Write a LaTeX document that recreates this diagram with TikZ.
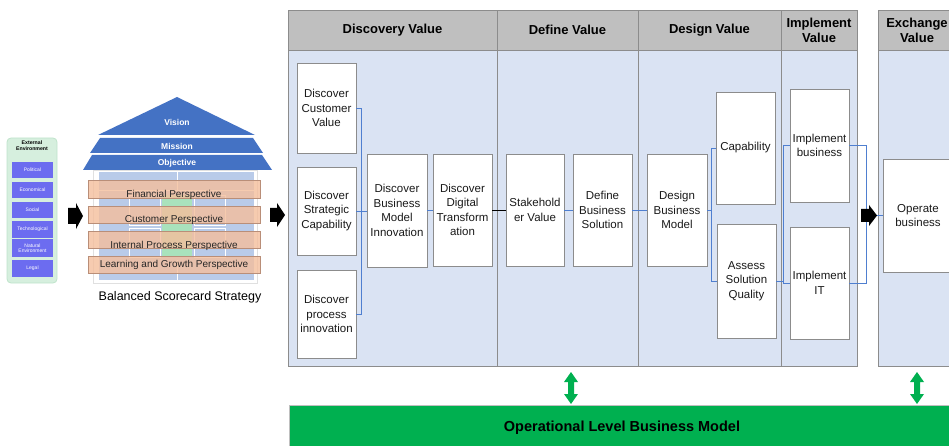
\documentclass[tikz,border=0pt]{standalone}
\usepackage{fontspec}
\setmainfont{Liberation Sans}

\definecolor{panelblue}{HTML}{DAE3F3}
\definecolor{headgray}{HTML}{BFBFBF}
\definecolor{edgegray}{HTML}{8C8C8C}
\definecolor{conblue}{HTML}{4F7FD0}
\definecolor{roofblue}{HTML}{4472C4}
\definecolor{opgreen}{HTML}{00B050}
\definecolor{extfill}{HTML}{D6EFDE}
\definecolor{extedge}{HTML}{BFE3CB}
\definecolor{pestblue}{HTML}{6C6CF0}
\definecolor{scoreblue}{HTML}{B9CBE9}
\definecolor{scoregreen}{HTML}{A9E2BC}
\definecolor{persfill}{HTML}{F4BE9C}
\definecolor{persedge}{HTML}{B98E78}
\definecolor{boxtext}{HTML}{1A1A1A}

% right-pointing block arrow: tail x, tip x, centre y, half shaft, half head, head length
\newcommand{\blockarrowR}[6]{%
  \fill[black] (#1,#3-#4) -- (#2-#6,#3-#4) -- (#2-#6,#3-#5) -- (#2,#3)
    -- (#2-#6,#3+#5) -- (#2-#6,#3+#4) -- (#1,#3+#4) -- cycle;}
% vertical double block arrow: centre x, top y, bottom y
\newcommand{\greenUpDown}[3]{%
  \fill[opgreen] (#1,#2) -- (#1+7,#2+10) -- (#1+3,#2+10) -- (#1+3,#3-10) -- (#1+7,#3-10)
    -- (#1,#3) -- (#1-7,#3-10) -- (#1-3,#3-10) -- (#1-3,#2+10) -- (#1-7,#2+10) -- cycle;}

\begin{document}
\begin{tikzpicture}[x=1pt,y=-1pt,
  box/.style={draw=edgegray, fill=white, line width=0.8pt, inner sep=1pt,
    align=center, text=boxtext, font=\fontsize{11.5}{14.5}\selectfont},
  hdr/.style={draw=edgegray, fill=headgray, line width=0.8pt, inner sep=0pt,
    align=center, font=\fontsize{13}{15}\selectfont\bfseries},
  lane/.style={draw=edgegray, fill=panelblue, line width=0.8pt, inner sep=0pt},
  con/.style={draw=conblue, line width=0.7pt},
  pest/.style={fill=pestblue, inner sep=0pt, minimum width=41pt, align=center,
    text=white, font=\fontsize{5}{5.5}\selectfont},
  pers/.style={draw=persedge, fill=persfill, fill opacity=0.8, line width=0.6pt,
    minimum width=172pt, inner sep=0pt},
  perstext/.style={font=\fontsize{10}{12}\selectfont, text=black!85},
  rooftext/.style={text=white, font=\fontsize{8.5}{10}\selectfont\bfseries}
]
\useasboundingbox (0,0) rectangle (949,446);
\clip (0,0) rectangle (949,446);

% ---------- external environment (PESTEL) ----------
\node[draw=extedge, fill=extfill, rounded corners=4pt, line width=0.8pt,
  minimum width=50pt, minimum height=145pt, inner sep=0pt] (ext) at (32,210.5) {};
\node[font=\fontsize{5.2}{5.8}\selectfont\bfseries, align=center] (extt) at (32,146) {External\\Environment};
\node[pest, minimum height=16pt] (pol) at (32.5,170) {Political};
\node[pest, minimum height=16pt] (eco) at (32.5,190) {Economical};
\node[pest, minimum height=16pt] (soc) at (32.5,210) {Social};
\node[pest, minimum height=17pt] (tec) at (32.5,229.5) {Technological};
\node[pest, minimum height=18pt] (nat) at (32.5,248) {Natural\\Environment};
\node[pest, minimum height=17pt] (leg) at (32.5,268.5) {Legal};

\blockarrowR{68}{83}{216}{8}{13}{7}

% ---------- balanced scorecard house ----------
\fill[roofblue] (98,135) -- (177,97) -- (255,135) -- cycle;
\fill[roofblue] (100,138) -- (253,138) -- (263,153) -- (90,153) -- cycle;
\fill[roofblue] (92,155) -- (262,155) -- (272,170) -- (83,170) -- cycle;
\node[rooftext] (vision) at (177,122) {Vision};
\node[rooftext] (mission) at (177,146) {Mission};
\node[rooftext] (objective) at (177,163) {Objective};

\draw[black!12, fill=white] (93,170) rectangle (257,283);
\fill[scoreblue] (99,172) rectangle (254,280);
\fill[scoregreen] (162,195) rectangle (192,257);
\begin{scope}[draw=white, line width=0.7pt]
  \draw (99,190) -- (254,190);
  \draw (177,172) -- (177,190);
  \draw (129,195) rectangle (160,225);
  \draw (129,228) rectangle (160,257);
  \draw (194,195) rectangle (225,225);
  \draw (194,228) rectangle (225,257);
  \draw (177,260) -- (177,280);
\end{scope}

\node[pers, minimum height=18pt] (fin) at (174,189) {};
\node[pers, minimum height=17pt] (cus) at (174,214.5) {};
\node[pers, minimum height=17pt] (ipp) at (174,239.5) {};
\node[pers, minimum height=17pt] (lgp) at (174,264.5) {};
\node[perstext] (fint) at (174,195) {Financial Perspective};
\node[perstext] (cust) at (174,220) {Customer Perspective};
\node[perstext] (ippt) at (174,246) {Internal Process Perspective};
\node[perstext] (lgpt) at (174,265) {Learning and Growth Perspective};

\node[font=\fontsize{12.5}{15}\selectfont] (bsc) at (180,297) {Balanced Scorecard Strategy};

\blockarrowR{270}{285}{215}{7}{12}{8}

% ---------- value stream lanes ----------
\node[lane, minimum width=209pt, minimum height=316pt] (ldisc) at (392.5,208) {};
\node[lane, minimum width=141pt, minimum height=316pt] (ldef) at (567.5,208) {};
\node[lane, minimum width=143pt, minimum height=316pt] (ldes) at (709.5,208) {};
\node[lane, minimum width=76pt, minimum height=316pt] (limp) at (819,208) {};
\node[lane, minimum width=78pt, minimum height=316pt] (lexc) at (917,208) {};

\node[hdr, minimum width=209pt, minimum height=40pt] (hdisc) at (392.5,30) {Discovery Value};
\node[hdr, minimum width=141pt, minimum height=40pt] (hdef) at (567.5,30) {Define Value};
\node[hdr, minimum width=143pt, minimum height=40pt] (hdes) at (709.5,30) {Design Value};
\node[hdr, minimum width=76pt, minimum height=40pt] (himp) at (819,30) {Implement\\Value};
\node[hdr, minimum width=78pt, minimum height=40pt] (hexc) at (917,30) {Exchange\\Value};

% ---------- activities ----------
\node[box, minimum width=59pt, minimum height=90pt] (cv) at (326.5,108) {Discover\\Customer\\Value};
\node[box, minimum width=59pt, minimum height=88pt] (sc) at (326.5,211) {Discover\\Strategic\\Capability};
\node[box, minimum width=59pt, minimum height=88pt] (pi) at (326.5,314) {Discover\\process\\innovation};
\node[box, minimum width=60pt, minimum height=113pt] (bmi) at (397,210.5) {Discover\\Business\\Model\\Innovation};
\node[box, minimum width=59pt, minimum height=112pt] (ddt) at (462.5,210) {Discover\\Digital\\Transform\\ation};
\node[box, minimum width=58pt, minimum height=112pt] (sv) at (535,210) {Stakehold\\er Value};
\node[box, minimum width=59pt, minimum height=112pt] (dbs) at (602.5,210) {Define\\Business\\Solution};
\node[box, minimum width=60pt, minimum height=112pt] (dbm) at (677,210) {Design\\Business\\Model};
\node[box, minimum width=59pt, minimum height=112pt] (cap) at (745.5,148) {Capability};
\node[box, minimum width=59pt, minimum height=114pt] (asq) at (746.5,281) {Assess\\Solution\\Quality};
\node[box, minimum width=59pt, minimum height=113pt] (ib) at (819.5,145.5) {Implement\\business};
\node[box, minimum width=59pt, minimum height=112pt] (iit) at (819.5,283) {Implement\\IT};
\node[box, minimum width=70pt, minimum height=113pt] (ob) at (918,215.5) {Operate\\business};

% ---------- connectors ----------
\coordinate (busA) at (361,0);
\coordinate (busB) at (711,0);
\coordinate (busC) at (783,0);
\coordinate (merge) at (866,215.5);
\coordinate (arr3tip) at (877,215.5);

\draw[con] (cv.east) -- (cv.east -| busA) -- (pi.east -| busA) -- (pi.east);
\draw[con] (sc.east) -- (sc.east -| bmi.west);
\draw[con] (bmi.east) -- (bmi.east -| ddt.west);
\draw[black, line width=0.8pt] (ddt.east) -- (ddt.east -| sv.west);
\draw[con] (sv.east) -- (sv.east -| dbs.west);
\draw[con] (dbs.east) -- (dbs.east -| dbm.west);
\draw[con] (dbm.east) -- (dbm.east -| busB);
\draw[con] (cap.west) -- (cap.west -| busB) -- (asq.west -| busB) -- (asq.west);
\draw[con] (asq.east) -- (asq.east -| busC) |- (ib.west);
\draw[con] (asq.east -| busC) |- (iit.west);
\draw[con] (ib.east) -| (merge);
\draw[con] (iit.east) -| (merge);

\blockarrowR{861}{877}{215.5}{6.5}{10.5}{8}
\draw[con] (arr3tip) -- (ob.west);

% ---------- operational level ----------
\greenUpDown{571}{372}{404}
\greenUpDown{917}{372}{404}
\node[fill=opgreen, draw=black!25, line width=0.6pt, minimum width=666pt, minimum height=45pt,
  inner sep=0pt, font=\fontsize{14.5}{17}\selectfont\bfseries] (olbm) at (622,427.5)
  {Operational Level Business Model};
\end{tikzpicture}
\end{document}
